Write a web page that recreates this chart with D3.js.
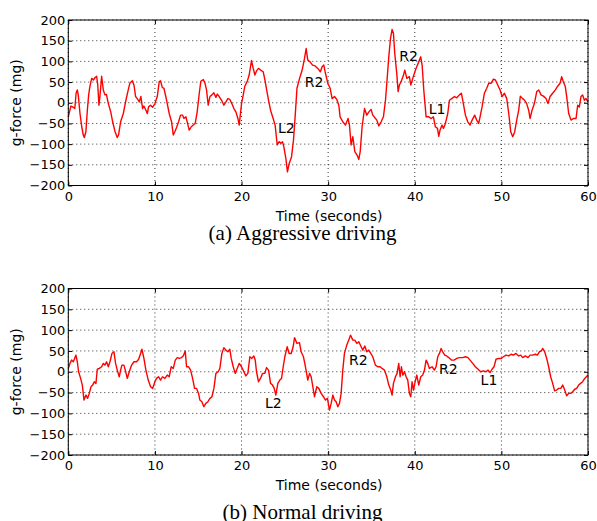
<!DOCTYPE html>
<html>
<head>
<meta charset="utf-8">
<script src="https://cdn.jsdelivr.net/npm/d3@7"></script>
<style>
  body { margin: 0; background: #fff; }
  .tick text { font-family: "DejaVu Sans", sans-serif; }
</style>
</head>
<body>
<div id="chart-area"></div>
<script>
// chart data
const xTicks = [0, 10, 20, 30, 40, 50, 60]
const yTicks = [200, 150, 100, 50, 0, -50, -100, -150, -200]

const aggrTime = [0,0.3,0.5,0.75,0.9,1.04,1.15,1.35,1.55,1.73,1.85,2.03,2.2,2.35,2.5,2.7,2.9,3.1,3.27,3.4,3.54,3.65,3.85,4.04,4.23,4.4,4.62,4.9,5.12,5.4,5.65,5.8,6.04,6.35,6.65,6.92,7.1,7.4,7.58,7.77,7.96,8.2,8.38,8.58,8.73,8.96,9.12,9.27,9.5,9.73,10,10.27,10.5,10.65,10.85,11.04,11.35,11.65,11.92,12.12,12.3,12.5,12.73,12.96,13.2,13.35,13.58,13.77,13.96,14.2,14.42,14.65,14.88,15.12,15.3,15.58,15.77,15.96,16.15,16.35,16.58,16.8,17.04,17.2,17.42,17.7,17.96,18.2,18.42,18.65,18.88,19.12,19.35,19.58,19.73,20,20.2,20.38,20.65,20.88,21.15,21.35,21.54,21.73,21.96,22.2,22.5,22.7,22.9,23.12,23.35,23.65,23.88,24.12,24.35,24.54,24.73,24.88,25.12,25.3,25.5,25.77,26,26.2,26.4,26.7,27,27.27,27.46,27.65,27.9,28.2,28.5,28.8,29.1,29.3,29.5,29.65,29.96,30.23,30.46,30.73,31,31.23,31.38,31.69,32,32.3,32.46,32.65,32.85,33.08,33.35,33.54,33.7,33.92,34.2,34.46,34.7,34.96,35.15,35.35,35.62,35.85,36.12,36.38,36.62,36.8,37,37.2,37.38,37.54,37.69,37.92,38.08,38.23,38.42,38.7,38.85,39.08,39.38,39.54,39.77,40.08,40.31,40.54,40.69,40.85,41.04,41.31,41.62,41.88,42.15,42.38,42.62,42.77,42.92,43.15,43.31,43.54,43.81,44,44.27,44.58,44.85,45.15,45.38,45.54,45.85,46.12,46.38,46.62,46.92,47.15,47.38,47.54,47.77,48.04,48.31,48.54,48.81,49.08,49.31,49.58,49.85,50.08,50.35,50.62,50.85,51.08,51.31,51.54,51.77,52,52.19,52.46,52.69,52.92,53.15,53.31,53.54,53.81,54.08,54.31,54.58,54.85,55.15,55.38,55.62,55.92,56.23,56.5,56.77,56.96,57.15,57.38,57.54,57.77,58.04,58.31,58.62,58.81,59,59.19,59.38,59.58,59.77,60]
const aggrForce = [-34,-8,-10,-14,23,31,19,-26,-58,-78,-84,-70,-18,19,40,59,55,61,64,43,-6,15,64,31,19,20,-2,-22,-46,-70,-84,-78,-46,-26,6,31,47,53,43,15,10,2,15,-14,-8,-18,-26,-10,-6,-11,-2,15,51,53,37,35,6,-26,-46,-78,-70,-60,-46,-30,-30,-38,-34,-50,-66,-58,-54,-50,-22,23,52,56,48,31,-6,15,19,24,13,21,15,6,-6,2,10,8,-2,-14,-22,-38,-54,-2,19,40,51,67,102,83,67,77,83,79,75,55,31,6,-18,-38,-54,-102,-94,-98,-94,-106,-135,-167,-147,-131,-90,-30,35,59,79,107,131,103,99,91,89,83,75,87,91,75,47,35,10,15,8,-6,-34,-46,-54,-38,-54,-102,-82,-118,-127,-137,-118,-58,-14,-30,-22,-16,-30,-35,-42,-56,-46,-34,6,55,111,156,177,168,119,71,27,43,51,67,79,59,63,43,59,79,91,103,111,91,31,-34,-34,-38,-34,-58,-62,-81,-66,-54,-62,-50,-26,6,10,15,12,19,23,6,-30,-46,-54,-42,-30,-42,-50,-34,-10,23,35,47,47,57,55,43,31,15,23,10,-26,-70,-82,-70,-42,-18,16,10,6,-2,-18,-38,-18,-2,27,31,19,16,10,-2,15,23,31,40,47,63,51,39,15,-26,-42,-38,-38,-6,-10,15,19,6,10,2]

const normTime = [0,0.19,0.38,0.58,0.73,0.88,1.04,1.19,1.42,1.62,1.81,2.04,2.23,2.42,2.62,2.81,3,3.19,3.35,3.58,3.85,4.04,4.23,4.42,4.62,4.81,5.04,5.27,5.46,5.65,5.88,6.04,6.19,6.42,6.58,6.81,7.04,7.31,7.58,7.88,8.12,8.35,8.5,8.73,8.96,9.23,9.5,9.73,10,10.19,10.42,10.65,10.88,11.15,11.42,11.65,11.88,12.12,12.35,12.58,12.81,13.08,13.27,13.5,13.65,13.88,14.12,14.35,14.58,14.81,15.04,15.19,15.42,15.65,15.88,16.12,16.35,16.58,16.81,17.04,17.31,17.5,17.73,17.96,18.19,18.42,18.65,18.81,19.04,19.27,19.5,19.73,20,20.27,20.5,20.73,20.96,21.19,21.42,21.58,21.73,21.96,22.19,22.42,22.69,22.88,23.12,23.35,23.58,23.77,23.96,24.19,24.42,24.62,24.81,25,25.27,25.5,25.73,25.96,26.12,26.4,26.69,26.88,27.15,27.38,27.65,27.85,28.04,28.23,28.42,28.69,28.92,29.19,29.46,29.69,29.92,30.15,30.35,30.54,30.73,30.92,31.12,31.31,31.5,31.69,31.88,32.15,32.38,32.58,32.85,33.08,33.31,33.54,33.77,34,34.23,34.46,34.69,34.92,35.15,35.46,35.73,36,36.23,36.5,36.77,37,37.23,37.38,37.54,37.77,37.96,38.15,38.31,38.46,38.62,38.81,39,39.19,39.38,39.54,39.69,39.85,40,40.23,40.46,40.69,40.92,41.12,41.31,41.5,41.69,42,42.27,42.46,42.65,42.85,43.04,43.23,43.46,43.69,43.92,44.23,44.54,44.85,45.15,45.54,45.85,46.15,46.38,46.69,47,47.31,47.62,47.92,48.23,48.46,48.69,48.92,49.15,49.38,49.69,50,50.23,50.54,50.85,51.12,51.38,51.69,52,52.23,52.46,52.77,53.08,53.31,53.62,53.92,54.15,54.38,54.62,54.77,55,55.23,55.46,55.69,55.92,56.15,56.38,56.62,56.85,57.08,57.31,57.54,57.77,58,58.23,58.46,58.69,58.92,59.15,59.38,59.62,60]
const normForce = [8,20,28,24,32,40,24,0,-16,-32,-68,-56,-64,-52,-36,-32,-24,-28,6,8,12,20,16,24,12,24,44,48,20,4,-12,4,16,16,4,-16,0,16,24,24,30,44,54,32,4,-20,-36,-40,-24,-16,-12,-20,-12,-16,-8,-12,12,8,28,34,32,34,38,50,12,12,4,-16,-40,-40,-52,-68,-72,-84,-76,-72,-64,-60,-40,-4,0,8,44,58,52,48,54,32,12,-4,8,20,12,0,-10,-4,36,32,38,28,0,-24,-16,-4,-4,10,4,-28,-32,-40,-56,-28,-20,-16,12,36,60,44,44,60,82,68,70,48,36,12,-20,-4,-12,-36,-60,-36,-40,-52,-60,-68,-64,-92,-76,-56,-68,-72,-84,-76,-52,4,44,64,76,88,76,76,68,72,62,52,62,48,52,44,36,16,12,12,8,4,-12,-32,-44,-56,-28,-12,-4,20,-12,12,-8,0,-12,-20,-52,-60,-24,-44,-28,-8,-32,-12,-8,4,28,20,8,12,4,12,36,44,56,48,40,38,34,28,28,32,34,34,36,34,28,20,12,6,0,2,0,4,-2,6,12,30,32,32,36,40,38,42,40,44,38,40,34,38,34,40,40,42,40,48,50,56,48,32,12,-12,-28,-46,-44,-40,-40,-32,-44,-58,-52,-52,-48,-42,-40,-32,-28,-24,-16,-8]

// event labels: [time, g-force, text]
const aggrEvents = [[24.2, -73, "L2"], [27.3, 38, "R2"], [38.2, 101, "R2"], [41.6, -27, "L1"]]
const normEvents = [[22.7, -87, "L2"], [32.4, 16, "R2"], [42.8, -6, "R2"], [47.6, -32, "L1"]]

const WIDTH = 597
const HEIGHT = 521
const LEFT = 68.3
const RIGHT = 588

const svg = d3.select("#chart-area").append("svg")
    .attr("width", WIDTH)
    .attr("height", HEIGHT)

svg.append("rect").attr("width", WIDTH).attr("height", HEIGHT).attr("fill", "#fff")

function drawPanel(top, bottom, times, forces, events, caption, captionY) {
    const x = d3.scaleLinear().domain([0, 60]).range([LEFT, RIGHT])
    const y = d3.scaleLinear().domain([-200, 200]).range([bottom, top])
    const g = svg.append("g")

    // dotted grid
    g.selectAll(".hgrid").data(yTicks).enter().append("line")
        .attr("x1", LEFT).attr("x2", RIGHT)
        .attr("y1", d => y(d)).attr("y2", d => y(d))
        .attr("stroke", "#000").attr("stroke-width", 0.8)
        .attr("stroke-dasharray", "1,3")
    g.selectAll(".vgrid").data(xTicks).enter().append("line")
        .attr("x1", d => x(d)).attr("x2", d => x(d))
        .attr("y1", top).attr("y2", bottom)
        .attr("stroke", "#000").attr("stroke-width", 0.8)
        .attr("stroke-dasharray", "1,3")

    // the signal
    const pts = times.map((t, i) => [t, forces[i]])
    const line = d3.line().x(d => x(d[0])).y(d => y(d[1]))
    g.append("path")
        .datum(pts)
        .attr("d", line)
        .attr("fill", "none")
        .attr("stroke", "#ff0000")
        .attr("stroke-width", 1.4)
        .attr("stroke-linejoin", "round")

    // axes, ticks pointing inward
    const xAxisCall = d3.axisBottom(x).tickValues(xTicks).tickSizeInner(-4).tickSizeOuter(0).tickPadding(6)
    g.append("g")
        .attr("transform", `translate(0, ${bottom})`)
        .call(xAxisCall)
        .call(a => a.select(".domain").remove())
        .selectAll("text").attr("font-size", "13px").attr("fill", "#000")
    g.append("g")
        .attr("transform", `translate(0, ${top})`)
        .call(d3.axisTop(x).tickValues(xTicks).tickSizeInner(-4).tickSizeOuter(0).tickFormat(""))
        .call(a => a.select(".domain").remove())

    const yAxisCall = d3.axisLeft(y).tickValues(yTicks).tickSizeInner(-4).tickSizeOuter(0).tickPadding(3)
    g.append("g")
        .attr("transform", `translate(${LEFT}, 0)`)
        .call(yAxisCall)
        .call(a => a.select(".domain").remove())
        .selectAll("text").attr("font-size", "13px").attr("fill", "#000")
    g.append("g")
        .attr("transform", `translate(${RIGHT}, 0)`)
        .call(d3.axisRight(y).tickValues(yTicks).tickSizeInner(-4).tickSizeOuter(0).tickFormat(""))
        .call(a => a.select(".domain").remove())

    g.append("rect")
        .attr("x", LEFT).attr("y", top)
        .attr("width", RIGHT - LEFT).attr("height", bottom - top)
        .attr("fill", "none").attr("stroke", "#000").attr("stroke-width", 1)

    // event labels
    g.selectAll(".ev").data(events).enter().append("text")
        .attr("x", d => x(d[0]))
        .attr("y", d => y(d[1]))
        .attr("font-family", "DejaVu Sans, sans-serif")
        .attr("font-size", "14px")
        .text(d => d[2])

    // Y label
    g.append("text")
        .attr("x", -(top + bottom) / 2)
        .attr("y", 21)
        .attr("font-family", "DejaVu Sans, sans-serif")
        .attr("font-size", "14px")
        .attr("text-anchor", "middle")
        .attr("transform", "rotate(-90)")
        .text("g-force (mg)")

    // X label
    g.append("text")
        .attr("x", (LEFT + RIGHT) / 2 + 1)
        .attr("y", bottom + 35)
        .attr("font-family", "DejaVu Sans, sans-serif")
        .attr("font-size", "14px")
        .attr("text-anchor", "middle")
        .text("Time (seconds)")

    // caption
    g.append("text")
        .attr("x", 302.5)
        .attr("y", captionY)
        .attr("font-family", "Liberation Serif, Times New Roman, serif")
        .attr("font-size", "21px")
        .attr("text-anchor", "middle")
        .text(caption)
}

drawPanel(20, 185.5, aggrTime, aggrForce, aggrEvents, "(a) Aggressive driving", 239.5)
drawPanel(288.5, 455, normTime, normForce, normEvents, "(b) Normal driving", 519)
</script>
</body>
</html>
